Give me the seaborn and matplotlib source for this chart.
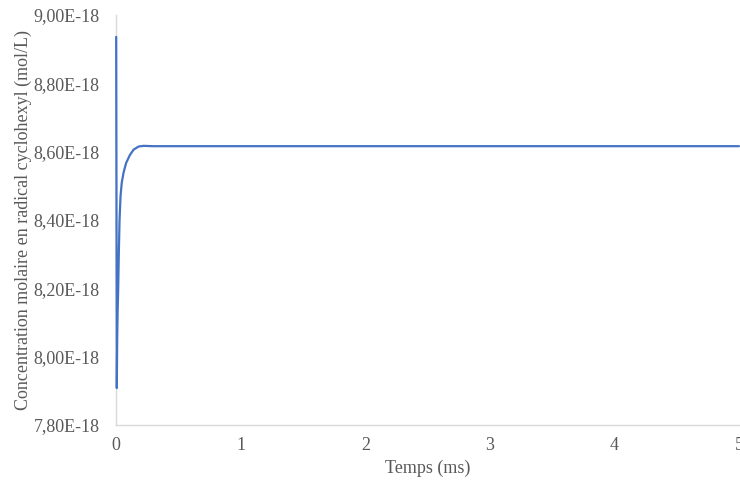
import matplotlib
matplotlib.use("Agg")
import matplotlib.pyplot as plt
import matplotlib.ticker as mticker
import seaborn as sns
import pandas as pd

# Temps (ms) et concentration (mol/L)
temps_ms = [0, 0.005, 0.008, 0.012, 0.016, 0.021, 0.027, 0.035, 0.045, 0.06,
            0.08, 0.11, 0.14, 0.18, 0.22, 0.3, 1, 2, 3, 4, 5]
concentration = [8.936e-18, 7.908e-18, 8.05e-18, 8.14e-18, 8.195e-18, 8.30e-18,
                 8.40e-18, 8.47e-18, 8.51e-18, 8.54e-18, 8.567e-18, 8.59e-18,
                 8.606e-18, 8.615e-18, 8.617e-18, 8.616e-18, 8.616e-18,
                 8.616e-18, 8.616e-18, 8.616e-18, 8.616e-18]

df = pd.DataFrame({"Temps (ms)": temps_ms, "Concentration": concentration})

sns.set_style("white")
plt.rcParams['font.family'] = ['Liberation Serif', 'DejaVu Serif']

grey = "#595959"
axis_grey = "#d9d9d9"

fig = plt.figure(figsize=(7.4, 4.84), dpi=100)
ax = fig.add_axes([0.157, 0.122, 0.8416, 0.847])

sns.lineplot(data=df, x="Temps (ms)", y="Concentration", ax=ax,
             color="#4472C4", linewidth=1.6, sort=False, zorder=3)
for line in ax.lines:
    line.set_clip_on(False)

ax.set_xlim(0, 5)
ax.set_ylim(7.8e-18, 9.0e-18)
ax.set_xticks([0, 1, 2, 3, 4, 5])
ax.set_yticks([7.8e-18, 8.0e-18, 8.2e-18, 8.4e-18, 8.6e-18, 8.8e-18, 9.0e-18])
ax.yaxis.set_major_formatter(
    mticker.FuncFormatter(lambda v, p: f"{v:.2E}".replace(".", ",")))
ax.xaxis.set_major_formatter(mticker.FuncFormatter(lambda v, p: f"{v:g}"))

for side in ["top", "right"]:
    ax.spines[side].set_visible(False)
for side in ["left", "bottom"]:
    ax.spines[side].set_color(axis_grey)
    ax.spines[side].set_linewidth(1.0)

ax.tick_params(axis="both", which="major", direction="inout", length=8,
               width=1.0, color=axis_grey, labelcolor=grey, labelsize=13)
ax.tick_params(axis="x", pad=5)
ax.tick_params(axis="y", pad=8)

ax.set_xlabel("Temps (ms)", color=grey, fontsize=13, labelpad=4)
ax.set_ylabel("Concentration molaire en radical cyclohexyl (mol/L)",
              color=grey, fontsize=13, labelpad=1)

fig.savefig("out.png", dpi=100)
